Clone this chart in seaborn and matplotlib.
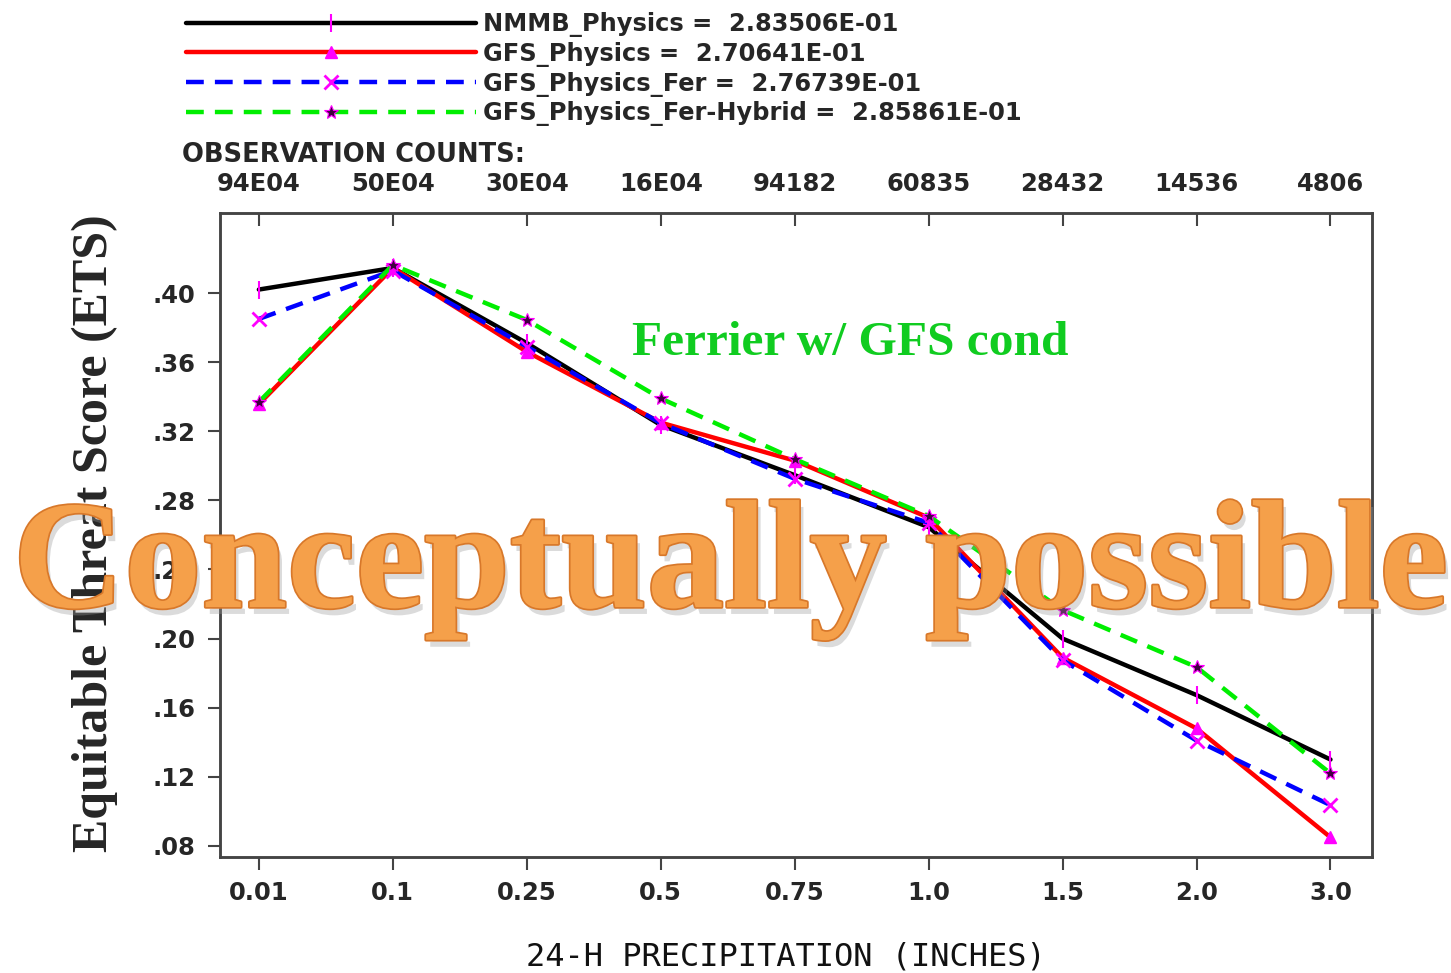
import matplotlib
matplotlib.use("Agg")
import matplotlib.pyplot as plt
import matplotlib.patheffects as pe
from matplotlib.lines import Line2D
import seaborn as sns
import pandas as pd

# ---- data ----
precip_cats = ["0.01", "0.1", "0.25", "0.5", "0.75", "1.0", "1.5", "2.0", "3.0"]
obs_counts = ["94E04", "50E04", "30E04", "16E04", "94182", "60835", "28432", "14536", "4806"]
nmmb_physics = [0.402, 0.4145, 0.371, 0.3236, 0.2946, 0.2645, 0.200, 0.1673, 0.130]
gfs_physics = [0.3357, 0.4145, 0.366, 0.325, 0.303, 0.270, 0.189, 0.148, 0.085]
gfs_physics_fer = [0.385, 0.413, 0.369, 0.3247, 0.2925, 0.267, 0.1875, 0.141, 0.1036]
gfs_physics_fer_hybrid = [0.3369, 0.4162, 0.3844, 0.339, 0.3039, 0.271, 0.2165, 0.1835, 0.122]
series_names = ["NMMB_Physics", "GFS_Physics", "GFS_Physics_Fer", "GFS_Physics_Fer-Hybrid"]
series_means = ["2.83506E-01", "2.70641E-01", "2.76739E-01", "2.85861E-01"]
yticks = [0.08, 0.12, 0.16, 0.20, 0.24, 0.28, 0.32, 0.36, 0.40]
ytick_labels = [".08", ".12", ".16", ".20", ".24", ".28", ".32", ".36", ".40"]

sns.set_theme(style="white")
plt.rcParams["font.family"] = ["DejaVu Sans"]

fig = plt.figure(figsize=(14.51, 9.73), dpi=100)
ax = fig.add_axes([220 / 1451, 1 - 857 / 973, (1372 - 220) / 1451, (857 - 213) / 973])

styles = [
    dict(color="black", lw=3.2, ls="-", marker="|", ms=13, mec="magenta", mfc="magenta", mew=1.5),
    dict(color="red", lw=3.2, ls="-", marker="^", ms=9, mec="magenta", mfc="magenta", mew=1),
    dict(color="blue", lw=3.2, ls=(0, (4, 2.5)), marker="x", ms=10, mec="magenta", mfc="magenta", mew=2),
    dict(color="#00ee00", lw=3.2, ls=(0, (4, 2.5)), marker="*", ms=10, mec="magenta", mfc="#400040", mew=0.8),
]
all_series = [nmmb_physics, gfs_physics, gfs_physics_fer, gfs_physics_fer_hybrid]
handles = []
for name, mean, vals, st in zip(series_names, series_means, all_series, styles):
    df = pd.DataFrame({"precip": precip_cats, "ets": vals})
    sns.lineplot(data=df, x="precip", y="ets", ax=ax, sort=False, legend=False,
                 color=st["color"], lw=st["lw"], linestyle=st["ls"],
                 marker=st["marker"], markersize=st["ms"], markeredgecolor=st["mec"],
                 markerfacecolor=st["mfc"], markeredgewidth=st["mew"])
    h = Line2D([], [], color=st["color"], lw=st["lw"], linestyle=st["ls"],
               marker=st["marker"], markersize=st["ms"], markeredgecolor=st["mec"],
               markerfacecolor=st["mfc"], markeredgewidth=st["mew"],
               label=f"{name} =  {mean}")
    handles.append(h)
if ax.get_legend() is not None:
    ax.get_legend().remove()

ax.set_xlim(-0.29, 8.31)
ax.set_ylim(0.0736, 0.4463)
ax.set_yticks(yticks)
ax.set_yticklabels(ytick_labels)
ax.set_xlabel("")
ax.set_ylabel("")
for s in ax.spines.values():
    s.set_color("#444444")
    s.set_linewidth(1.8)
ax.tick_params(axis="both", which="both", direction="out", length=9, width=1.5,
               color="#444444", labelsize=17.5, bottom=True, left=True)
ax.tick_params(axis="y", pad=9)
ax.tick_params(axis="x", pad=8)
for lab in ax.get_xticklabels() + ax.get_yticklabels():
    lab.set_fontweight("bold")

ax2 = ax.twiny()
ax2.set_xlim(ax.get_xlim())
ax2.set_xticks(range(len(obs_counts)))
ax2.set_xticklabels(obs_counts, fontweight="bold", fontsize=17.5)
ax2.tick_params(axis="x", direction="in", length=9, width=1.5, color="#444444", pad=12, top=True)
for s in ax2.spines.values():
    s.set_color("#444444")
    s.set_linewidth(1.8)

fig.text(182 / 1451, 1 - 155 / 973, "OBSERVATION COUNTS:", fontsize=18.5, fontweight="bold",
         va="center", ha="left")

leg = fig.legend(handles=handles, loc="upper left", bbox_to_anchor=(186 / 1451, 1 - 12 / 973),
                 frameon=False, fontsize=17.4, handlelength=12.0, handletextpad=0.3,
                 labelspacing=0.2, borderpad=0, numpoints=1, borderaxespad=0)
for t in leg.get_texts():
    t.set_fontweight("bold")

fig.text(786 / 1451, 1 - 966 / 973, "24-H PRECIPITATION (INCHES)", family="DejaVu Sans Mono",
         fontsize=23, ha="center", va="baseline", color="#111111")

fig.text(95 / 1451, 0.452, "Equitable Threat Score (ETS)", family="Liberation Serif",
         fontweight="bold", fontsize=36, rotation=90, ha="center", va="center")

fig.text(632 / 1451, 1 - 355 / 973, "Ferrier w/ GFS cond", family="Liberation Serif",
         fontweight="bold", fontsize=35.6, color="#10cc20", ha="left", va="baseline")

fig.text(730 / 1451, 1 - 607 / 973, "Conceptually possible", family="Liberation Serif",
         fontweight="bold", fontsize=111, color="#f5a04a", ha="center", va="baseline",
         path_effects=[pe.SimplePatchShadow(offset=(3, -5), shadow_rgbFace="#999999", alpha=0.35),
                       pe.withStroke(linewidth=2.5, foreground="#d8782a")])

fig.savefig("out.png", dpi=100)
